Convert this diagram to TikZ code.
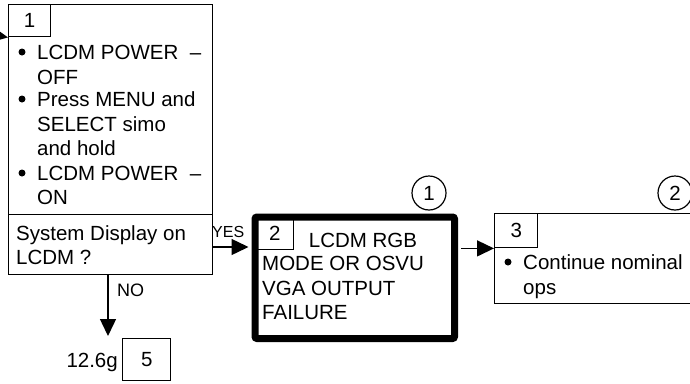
\documentclass[tikz,border=0pt]{standalone}
\usepackage{fontspec}
\setmainfont{Liberation Sans}
\usetikzlibrary{arrows.meta,calc}
\begin{document}
\begin{tikzpicture}[x=1pt,y=-1pt,
  txt/.style={inner sep=0pt, anchor=base west, font=\fontsize{20.5}{24.5}\selectfont},
  ctr/.style={inner sep=0pt, font=\fontsize{20.5}{24.5}\selectfont},
  box/.style={draw, line width=1.4pt, inner sep=0pt, anchor=north west},
  bigbox/.style={draw, line width=7pt, rounded corners=2pt, inner sep=0pt, anchor=north west},
  arr/.style={line width=1.4pt, -{Triangle[length=17pt,width=16pt]}},
  bul/.style={fill=black},
  ring/.style={draw, circle, line width=1.2pt, minimum size=34pt, inner sep=0pt, font=\fontsize{20.5}{24.5}\selectfont}]
\useasboundingbox (0,0) rectangle (690,383);

% Box 1
\node[box, minimum width=204pt, minimum height=210pt] (b1) at (8,4) {};
\node[box, minimum width=204pt, minimum height=60pt] (q1) at (8,214) {};
\node[box, minimum width=42pt, minimum height=32pt] (n1) at (8,4) {};
\node[ctr] (n1t) at (n1.center) {1};
\fill[bul] (22,52) circle (3.5);
\fill[bul] (22,99) circle (3.5);
\fill[bul] (22,173) circle (3.5);
\node[txt] (l1) at (37,59) {LCDM POWER\ \ –};
\node[txt] (l2) at (37,84) {OFF};
\node[txt] (l3) at (37,106) {Press MENU and};
\node[txt] (l4) at (37,131) {SELECT simo};
\node[txt] (l5) at (37,155) {and hold};
\node[txt] (l6) at (37,180) {LCDM POWER\ \ –};
\node[txt] (l7) at (37,204) {ON};
\node[txt] (s1) at (16,240) {System Display on};
\node[txt] (s2) at (16,264) {LCDM ?};
\coordinate (in1) at (0,36);
\draw[arr] (in1) -- (n1.south west);

% Box 5
\node[box, minimum width=48pt, minimum height=42pt] (b5) at (122,338) {};
\node[ctr] (b5t) at (b5.center) {5};
\node[txt, anchor=base east] (ref) at (118,367) {12.6g};
\coordinate (nofrom) at ($(q1.south west)+(100,0)$);
\coordinate (noto) at (108,336);
\draw[arr] (nofrom) -- (noto);
\node[inner sep=0pt, anchor=base west, font=\fontsize{18}{20}\selectfont] (no) at (117,296) {NO};

% Box 2
\node[bigbox, minimum width=199.5pt, minimum height=121.5pt] (b2) at (251.5,213.5) {};
\node[box, minimum width=38pt, minimum height=32pt] (n2) at (255,217) {};
\node[ctr] (n2t) at (n2.center) {2};
\node[ctr, anchor=base] (t1) at (363,247) {LCDM RGB};
\node[txt] (t2) at (262,270) {MODE OR OSVU};
\node[txt] (t3) at (262,295) {VGA OUTPUT};
\node[txt] (t4) at (262,319) {FAILURE};
\coordinate (yesfrom) at (212,247);
\draw[arr, shorten >=3pt] (yesfrom) -- (yesfrom -| b2.west);
\node[inner sep=0pt, anchor=base west, font=\fontsize{16}{18}\selectfont] (yes) at (212,237) {YES};
\node[ring] (c1) at (429,193) {1};

% Box 3
\node[box, minimum width=220pt, minimum height=90pt] (b3) at (494,213) {};
\node[box, minimum width=43pt, minimum height=34pt] (n3) at (494,213) {};
\node[ctr] (n3t) at (n3.center) {3};
\fill[bul] (508,262) circle (3.5);
\node[txt] (u1) at (523,269) {Continue nominal};
\node[txt] (u2) at (523,294) {ops};
\draw[arr, shorten <=3pt] (b2.east |- n3.south west) -- (n3.south west);
\node[ring] (c2) at (675,193) {2};
\end{tikzpicture}
\end{document}
